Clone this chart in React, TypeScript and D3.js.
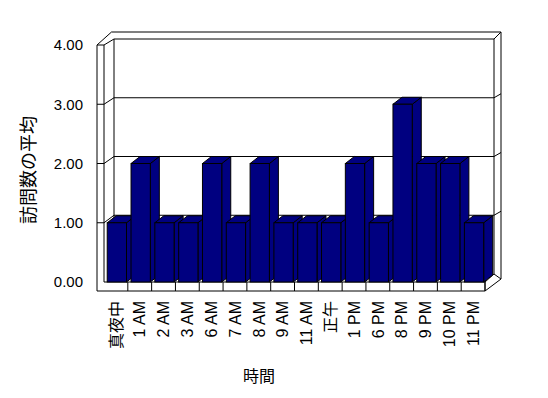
import * as d3 from "d3";

// categories & values
const HOURS = ["真夜中", "1 AM", "2 AM", "3 AM", "6 AM", "7 AM", "8 AM", "9 AM", "11 AM", "正午", "1 PM", "6 PM", "8 PM", "9 PM", "10 PM", "11 PM"];
const VISITS = [1, 2, 1, 1, 2, 1, 2, 1, 1, 1, 2, 1, 3, 2, 2, 1];
const Y_TICKS = [0, 1, 2, 3, 4];

const W = 548;
const H = 398;
const NAVY = "#000080";
const FONT = "'Liberation Sans', Arial, 'Noto Sans CJK JP', sans-serif";

// front plane / back plane of the 3d box
const FX0 = 104, FX1 = 485;
const BX0 = 114, BX1 = 494;
const WALL = 7;     // wall thickness
const FLOOR = 9;    // floor thickness
// bar depth offset
const BDX = 9, BDY = -7;

export default function App() {
  const x = d3.scaleBand<string>().domain(HOURS).range([FX0, FX1]);
  const yF = d3.scaleLinear().domain([0, 4]).range([282, 45]);
  const yB = d3.scaleLinear().domain([0, 4]).range([274, 39]);
  const bw = x.bandwidth();

  const yTop = yF(4), yBot = yF(0);
  const byTop = yB(4), byBot = yB(0);

  const ln = (x1: number, y1: number, x2: number, y2: number, key: string) => (
    <line key={key} x1={x1} y1={y1} x2={x2} y2={y2} stroke="#000" strokeWidth={1} />
  );

  const pts = (p: [number, number][]) => p.map(d => d.join(",")).join(" ");

  return (
    <svg width={W} height={H} style={{ position: "absolute", left: 0, top: 0, background: "#fff" }}>
      {/* back wall + left wall */}
      <g>
        {ln(BX0, byTop, BX1, byTop, "bt")}
        {ln(BX0 - 2.5, byTop - WALL, BX1 + WALL, byTop - WALL, "bto")}
        {ln(BX1, byTop, BX1, byBot, "br")}
        {ln(BX1 + WALL, byTop - WALL, BX1 + WALL, byBot + 5, "bro")}
        {ln(BX1, byTop, BX1 + WALL, byTop - WALL, "brc")}
        {ln(BX0, byTop, BX0, byBot, "bl")}
        {ln(FX0, yTop, FX0, yBot, "lwi")}
        {ln(FX0 - WALL, yTop, FX0 - WALL, yBot + FLOOR, "lwo")}
        {ln(FX0 - WALL, yTop, FX0, yTop, "lwt")}
        {ln(FX0 - WALL, yTop, BX0 - 2.5, byTop - WALL, "lwd1")}
        {ln(FX0, yTop, BX0, byTop, "lwd2")}
        {Y_TICKS.filter(v => v > 0 && v < 4).map(v => (
          <g key={`g${v}`}>
            {ln(BX0, yB(v), BX1, yB(v), "h")}
            {ln(FX0, yF(v), BX0, yB(v), "d")}
            {ln(FX0 - WALL, yF(v), FX0, yF(v), "t")}
            {ln(BX1, yB(v), BX1 + WALL, yB(v) - 4, "r")}
          </g>
        ))}
      </g>

      {/* floor */}
      <g>
        <polygon points={pts([[FX1, yBot], [BX1, byBot], [BX1 + WALL, byBot + 5], [FX1, yBot + FLOOR]])} fill="#fff" stroke="#000" />
        {ln(FX0, yBot, FX1, yBot, "ft")}
        {ln(FX0 - WALL, yBot + FLOOR, FX1, yBot + FLOOR, "fb")}
        {ln(FX1, yBot, FX1, yBot + FLOOR, "fr")}
        {HOURS.slice(1).map(h => ln(x(h)!, yBot, x(h)!, yBot + FLOOR, `c${h}`))}
      </g>

      {/* bars */}
      <g stroke="#000" strokeWidth={1} strokeLinejoin="miter">
        {HOURS.map((h, i) => {
          const x0 = x(h)! + bw * 0.135;
          const x1 = x0 + bw * 0.81;
          const yt = yF(VISITS[i]);
          return (
            <g key={h}>
              <polygon fill={NAVY} points={pts([[x1, yt], [x1 + BDX, yt + BDY], [x1 + BDX, yBot + BDY], [x1, yBot]])} />
              <polygon fill={NAVY} points={pts([[x0, yt], [x0 + BDX, yt + BDY], [x1 + BDX, yt + BDY], [x1, yt]])} />
              <rect fill={NAVY} x={x0} y={yt} width={x1 - x0} height={yBot - yt} />
            </g>
          );
        })}
      </g>

      {/* y tick labels */}
      <g fontFamily={FONT} fontSize={15} fill="#000">
        {Y_TICKS.map(v => (
          <text key={v} x={83} y={yF(v)} dy="0.36em" textAnchor="end">{v.toFixed(2)}</text>
        ))}
      </g>

      {/* x tick labels, rotated */}
      <g fontFamily={FONT} fontSize={16} fill="#000">
        {HOURS.map(h => {
          const cx = x(h)! + bw / 2;
          return (
            <text key={h} transform={`translate(${cx},301) rotate(-90)`} dy="0.36em" textAnchor="end">{h}</text>
          );
        })}
      </g>

      {/* axis titles */}
      <text transform="translate(29,170) rotate(-90)" dy="0.36em" textAnchor="middle" fontFamily={FONT} fontSize={18}>訪問数の平均</text>
      <text x={259} y={376} dy="0.36em" textAnchor="middle" fontFamily={FONT} fontSize={16}>時間</text>
    </svg>
  );
}
